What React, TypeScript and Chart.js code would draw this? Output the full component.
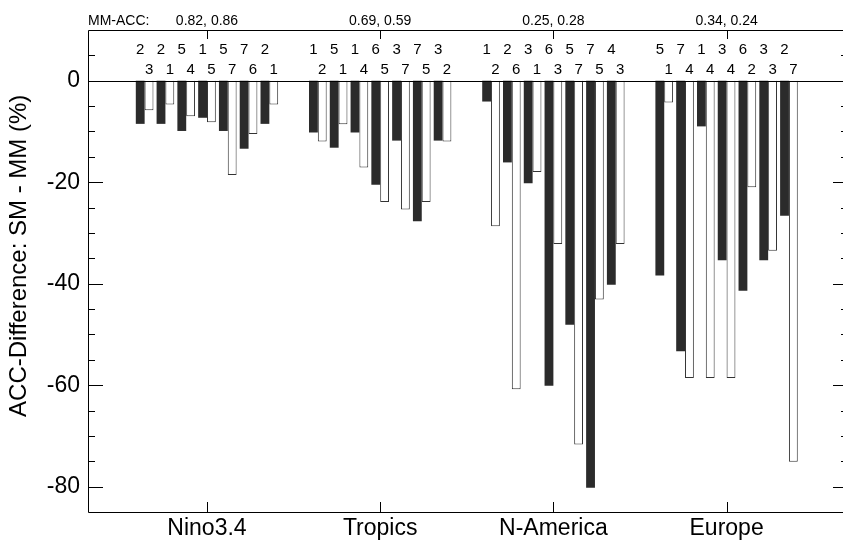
import React, { useEffect, useRef } from 'react';
import { Chart, registerables } from 'chart.js';

Chart.register(...registerables);

// ---------- data ----------
const GROUPS = ['Nino3.4', 'Tropics', 'N-America', 'Europe'];
const MM_ACC = ['0.82, 0.86', '0.69, 0.59', '0.25, 0.28', '0.34, 0.24'];
const Y_TITLE = 'ACC-Difference: SM - MM (%)';

const NINO_DARK = [-8.5, -8.5, -9.9, -7.3, -9.9, -13.4, -8.5];
const NINO_WHITE = [-5.8, -4.7, -7.0, -8.2, -18.6, -10.5, -4.7];
const TROP_DARK = [-10.2, -13.2, -10.2, -20.5, -11.8, -27.7, -11.8];
const TROP_WHITE = [-12.0, -8.6, -17.1, -23.9, -25.4, -23.9, -12.0];
const NAM_DARK = [-4.1, -16.1, -20.2, -60.1, -48.1, -80.2, -40.2];
const NAM_WHITE = [-28.7, -60.8, -18.0, -32.2, -71.7, -43.1, -32.2];
const EUR_DARK = [-38.4, -53.3, -9.0, -35.4, -41.4, -35.4, -26.6];
const EUR_WHITE = [-4.3, -58.6, -58.6, -58.6, -21.0, -33.5, -75.1];

const NINO_DARK_LBL = ['2', '2', '5', '1', '5', '7', '2'];
const NINO_WHITE_LBL = ['3', '1', '4', '5', '7', '6', '1'];
const TROP_DARK_LBL = ['1', '5', '1', '6', '3', '7', '3'];
const TROP_WHITE_LBL = ['2', '1', '4', '5', '7', '5', '2'];
const NAM_DARK_LBL = ['1', '2', '3', '6', '5', '7', '4'];
const NAM_WHITE_LBL = ['2', '6', '1', '3', '7', '5', '3'];
const EUR_DARK_LBL = ['5', '7', '1', '3', '6', '3', '2'];
const EUR_WHITE_LBL = ['1', '4', '4', '4', '2', '3', '7'];

const Y_TICKS = [-80, -60, -40, -20, 0];
const Y_MIN = -85;
const Y_MAX = 10;
const Y_MINOR_STEP = 5;
const Y_MAJOR_STEP = 20;

const DARK_VALUES = [NINO_DARK, TROP_DARK, NAM_DARK, EUR_DARK];
const WHITE_VALUES = [NINO_WHITE, TROP_WHITE, NAM_WHITE, EUR_WHITE];
const DARK_LABELS = [NINO_DARK_LBL, TROP_DARK_LBL, NAM_DARK_LBL, EUR_DARK_LBL];
const WHITE_LABELS = [NINO_WHITE_LBL, TROP_WHITE_LBL, NAM_WHITE_LBL, EUR_WHITE_LBL];

// ---------- layout / style ----------
const CANVAS_W = 850; // frame's right edge lies just outside the visible 843px
const CANVAS_H = 543;
const PAIR_STEP = 0.12; // spacing of pairs inside a group (in group units)
const X_MIN = 0.313;
const X_MAX = 4.701;
const DARK_ROW_VALUE = 6.0; // label rows placed in data space above zero
const WHITE_ROW_VALUE = 2.2;
const TITLE_CENTER_VALUE = -34.5; // vertical centre of the y title, in data units
const FONT = '"Liberation Sans", Arial, Helvetica, sans-serif';

const toPoints = (sets: number[][]) =>
  sets.flatMap((vals, g) =>
    vals.map((v, k) => ({ x: g + 1 + (k - (vals.length - 1) / 2) * PAIR_STEP, y: v }))
  );

const framePlugin = {
  id: 'framePlugin',
  afterDatasetsDraw(chart: any) {
    const { ctx, chartArea, scales } = chart;
    const { left, right, top, bottom } = chartArea;
    const xs = scales.x;
    const ys = scales.y;
    const px = (v: number) => Math.round(v) + 0.5;
    ctx.save();
    ctx.strokeStyle = '#000';
    ctx.lineWidth = 1;

    // zero line
    const y0 = px(ys.getPixelForValue(0));
    ctx.beginPath();
    ctx.moveTo(left, y0);
    ctx.lineTo(right, y0);
    ctx.stroke();

    // frame
    ctx.beginPath();
    ctx.rect(px(left), px(top), Math.round(right) - Math.round(left) - 1, Math.round(bottom) - Math.round(top));
    ctx.stroke();

    // y ticks (inward, both sides)
    ctx.beginPath();
    for (let v = Y_MIN + Y_MINOR_STEP; v < Y_MAX; v += Y_MINOR_STEP) {
      const yy = px(ys.getPixelForValue(v));
      const len = v % Y_MAJOR_STEP === 0 ? 15 : 7;
      ctx.moveTo(Math.round(left), yy);
      ctx.lineTo(Math.round(left) + len, yy);
      ctx.moveTo(Math.round(right), yy);
      ctx.lineTo(Math.round(right) - len, yy);
    }
    // x ticks (top and bottom)
    GROUPS.forEach((_, g) => {
      const xx = px(xs.getPixelForValue(g + 1));
      ctx.moveTo(xx, Math.round(bottom));
      ctx.lineTo(xx, Math.round(bottom) - 10);
      ctx.moveTo(xx, Math.round(top));
      ctx.lineTo(xx, Math.round(top) + 9);
    });
    ctx.stroke();

    // numbers above bars
    ctx.fillStyle = '#000';
    ctx.textAlign = 'center';
    ctx.textBaseline = 'middle';
    ctx.font = `15px ${FONT}`;
    chart.data.datasets.forEach((ds: any, i: number) => {
      const meta = chart.getDatasetMeta(i);
      const rowY = ys.getPixelForValue(ds.rowValue);
      meta.data.forEach((el: any, j: number) => {
        ctx.fillText(ds.numLabels[j], el.x, rowY);
      });
    });

    // top labels
    ctx.font = `14px ${FONT}`;
    const topY = top - 9;
    GROUPS.forEach((_, g) => {
      ctx.fillText(MM_ACC[g], xs.getPixelForValue(g + 1), topY);
    });
    ctx.textAlign = 'left';
    ctx.fillText('MM-ACC:', left, topY);

    // y axis title
    ctx.translate(ys.left + 19, ys.getPixelForValue(TITLE_CENTER_VALUE));
    ctx.rotate(-Math.PI / 2);
    ctx.textAlign = 'center';
    ctx.textBaseline = 'middle';
    ctx.font = `24px ${FONT}`;
    ctx.fillText(Y_TITLE, 0, 0);
    ctx.restore();
  },
};

export default function App() {
  const ref = useRef<HTMLCanvasElement | null>(null);

  useEffect(() => {
    document.body.style.margin = '0';
    if (!ref.current) return;
    const chart = new Chart(ref.current, {
      type: 'bar',
      data: {
        datasets: [
          {
            label: 'dark',
            data: toPoints(DARK_VALUES),
            backgroundColor: '#2b2b2b',
            borderWidth: 0,
            numLabels: DARK_LABELS.flat(),
            rowValue: DARK_ROW_VALUE,
          } as any,
          {
            label: 'white',
            data: toPoints(WHITE_VALUES),
            backgroundColor: '#ffffff',
            borderColor: '#333333',
            borderWidth: 1,
            numLabels: WHITE_LABELS.flat(),
            rowValue: WHITE_ROW_VALUE,
          } as any,
        ],
      },
      options: {
        animation: false,
        responsive: false,
        maintainAspectRatio: false,
        layout: { padding: { top: 30, right: 2, left: 0, bottom: 0 } },
        datasets: {
          bar: { categoryPercentage: 0.85, barPercentage: 1.0, inflateAmount: 0 } as any,
        },
        plugins: { legend: { display: false }, tooltip: { enabled: false } },
        scales: {
          x: {
            type: 'linear',
            min: X_MIN,
            max: X_MAX,
            offset: false,
            grid: { display: false, drawTicks: false, offset: false },
            border: { display: false },
            afterBuildTicks: (scale: any) => {
              scale.ticks = GROUPS.map((_, i) => ({ value: i + 1 }));
            },
            afterFit: (scale: any) => {
              scale.height = 31;
            },
            ticks: {
              autoSkip: false,
              maxRotation: 0,
              padding: 3,
              color: '#000',
              font: { family: FONT, size: 23 },
              callback: (v: any) => GROUPS[Math.round(Number(v)) - 1] ?? '',
            },
          },
          y: {
            type: 'linear',
            min: Y_MIN,
            max: Y_MAX,
            grid: { display: false, drawTicks: false },
            border: { display: false },
            afterBuildTicks: (scale: any) => {
              scale.ticks = Y_TICKS.map((v) => ({ value: v }));
            },
            afterFit: (scale: any) => {
              scale.width = 88;
            },
            ticks: {
              padding: 8,
              color: '#000',
              font: { family: FONT, size: 23 },
            },
          },
        },
      },
      plugins: [framePlugin],
    } as any);
    return () => chart.destroy();
  }, []);

  return (
    <div style={{ width: 843, height: CANVAS_H, position: 'relative', overflow: 'hidden' }}>
      <canvas ref={ref} width={CANVAS_W} height={CANVAS_H} style={{ display: 'block' }} />
    </div>
  );
}
